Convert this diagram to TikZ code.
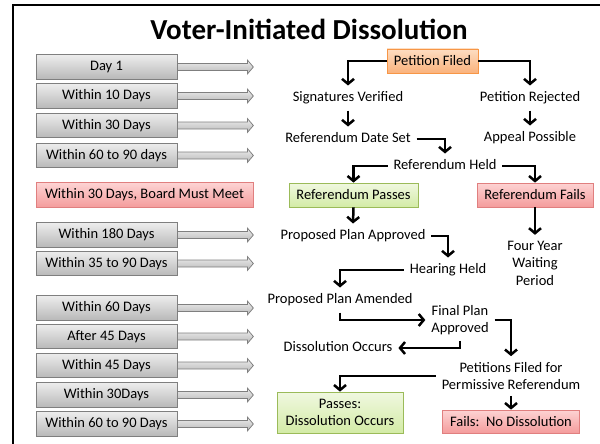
\documentclass[tikz,border=0pt]{standalone}
\usepackage{fontspec}
\setmainfont{Carlito}
\usetikzlibrary{arrows.meta}
\definecolor{graytop}{HTML}{EDEDED}
\definecolor{graybot}{HTML}{B8B8B8}
\definecolor{grayline}{HTML}{7F7F7F}
\definecolor{redtop}{HTML}{FDD3D3}
\definecolor{redbot}{HTML}{F49C9C}
\definecolor{redline}{HTML}{E07F7F}
\definecolor{greentop}{HTML}{F0F8E0}
\definecolor{greenbot}{HTML}{D3EBA6}
\definecolor{greenline}{HTML}{9BBB59}
\definecolor{orangetop}{HTML}{FDDDC2}
\definecolor{orangebot}{HTML}{FAB27C}
\definecolor{orangeline}{HTML}{F79646}
\tikzset{
  flow/.style={-{Straight Barb[length=5pt,width=12pt]}, line width=2.5pt}, % the black elbow connectors
  daybox/.style={draw=grayline, line width=0.75pt, top color=graytop, bottom color=graybot,
    minimum width=141pt, minimum height=24.5pt, inner sep=0pt}, % time boxes on the left
  dayarrow/.style={draw=grayline, line width=0.75pt, top color=graytop, bottom color=graybot}, % hollow arrows
  plain/.style={inner sep=0pt, outer sep=6pt, text height=10pt, text depth=3pt}, % one line steps
  plaintwo/.style={inner sep=0pt, outer sep=6pt, align=center}, % steps on more lines
  colorbox/.style={line width=0.75pt, inner sep=0pt, align=center}, % coloured steps
  redbox/.style={colorbox, draw=redline, top color=redtop, bottom color=redbot},
  greenbox/.style={colorbox, draw=greenline, top color=greentop, bottom color=greenbot},
  orangebox/.style={colorbox, draw=orangeline, top color=orangetop, bottom color=orangebot},
}
\begin{document}
\begin{tikzpicture}[x=1pt, y=-1pt, font=\fontsize{14.5}{17.5}\selectfont]
  \useasboundingbox (0,0) rectangle (600,444);
  \draw[line width=2.5pt] (13,444) -- (13,5) -- (600,5);

  \node[anchor=base, font=\fontsize{29}{34}\bfseries] (title) at (309,40) {Voter-Initiated Dissolution};

  % time line
  \node[daybox] (d1) at (106.5,67) {Day 1};
  \node[daybox] (d2) at (106.5,96) {Within 10 Days};
  \node[daybox] (d3) at (106.5,125.5) {Within 30 Days};
  \node[daybox] (d4) at (106.5,155.5) {Within 60 to 90 days};
  \node[redbox, minimum width=217pt, minimum height=24.5pt] (board) at (144.5,195) {Within 30 Days, Board Must Meet};
  \node[daybox] (d5) at (106.5,235) {Within 180 Days};
  \node[daybox] (d6) at (106.5,263.5) {Within 35 to 90 Days};
  \node[daybox] (d7) at (106.5,308) {Within 60 Days};
  \node[daybox] (d8) at (106.5,336.5) {After 45 Days};
  \node[daybox] (d9) at (106.5,365.5) {Within 45 Days};
  \node[daybox] (d10) at (106.5,395) {Within 30Days};
  \node[daybox] (d11) at (106.5,424) {Within 60 to 90 Days};

  \foreach \b in {d1,d2,d3,d4,d5,d6,d7,d8,d9,d10,d11}
    \draw[dayarrow] (\b.east) ++(0,-3.5) -- ++(70,0) -- ++(0,-3.5) -- ++(6,7)
      -- ++(-6,7) -- ++(0,-3.5) -- ++(-70,0) -- cycle;

  % steps
  \node[orangebox, minimum width=91pt, minimum height=24pt] (filed) at (432.5,61) {Petition Filed};
  \node[plain] (sigver) at (348,98) {Signatures Verified};
  \node[plain] (rejected) at (530,98) {Petition Rejected};
  \node[plain] (dateset) at (348,139) {Referendum Date Set};
  \node[plain] (appeal) at (530,138) {Appeal Possible};
  \node[plain] (held) at (445,166) {Referendum Held};
  \node[greenbox, minimum width=129pt, minimum height=24pt] (passes) at (353.5,195) {Referendum Passes};
  \node[redbox, minimum width=116pt, minimum height=24pt] (fails) at (535,195) {Referendum Fails};
  \node[plain] (approved) at (353,236) {Proposed Plan Approved};
  \node[plaintwo] (waiting) at (535,263) {Four Year\\Waiting\\Period};
  \node[plain] (hearing) at (448,270) {Hearing Held};
  \node[plain] (amended) at (340,300) {Proposed Plan Amended};
  \node[plaintwo] (finalplan) at (460,320) {Final Plan\\Approved};
  \node[plain] (occurs) at (338,348) {Dissolution Occurs};
  \node[plaintwo] (petitions) at (511,376) {Petitions Filed for\\Permissive Referendum};
  \node[greenbox, minimum width=126pt, minimum height=41pt] (dissolve) at (340,412.5) {Passes:\\Dissolution Occurs};
  \node[redbox, minimum width=137pt, minimum height=23pt] (nodiss) at (511,421.5) {Fails:\ \ No Dissolution};

  % connectors
  \draw[flow] (filed.west) -| (sigver.north);
  \draw[flow] (filed.east) -| (rejected.north);
  \draw[flow] (sigver.south) -- (dateset.north);
  \draw[flow] (rejected.south) -- (appeal.north);
  \draw[flow] (dateset.east) -| (held.north);
  \draw[flow] (held.west) -| (passes.north);
  \draw[flow] (held.east) -| (fails.north);
  \draw[flow] (passes.south) -- (approved.north);
  \draw[flow] (fails.south) -- (waiting.north);
  \draw[flow] (approved.east) -| (hearing.north);
  \draw[flow] (hearing.west) -| (amended.north);
  \draw[flow] (amended.south) |- (finalplan.west);
  \draw[flow] (finalplan.east) -| (petitions.north);
  \draw[flow] (finalplan.south) |- (occurs.east);
  \draw[flow] (petitions.west) -| (dissolve.north);
  \draw[flow] (petitions.south) -- (nodiss.north);
\end{tikzpicture}
\end{document}
